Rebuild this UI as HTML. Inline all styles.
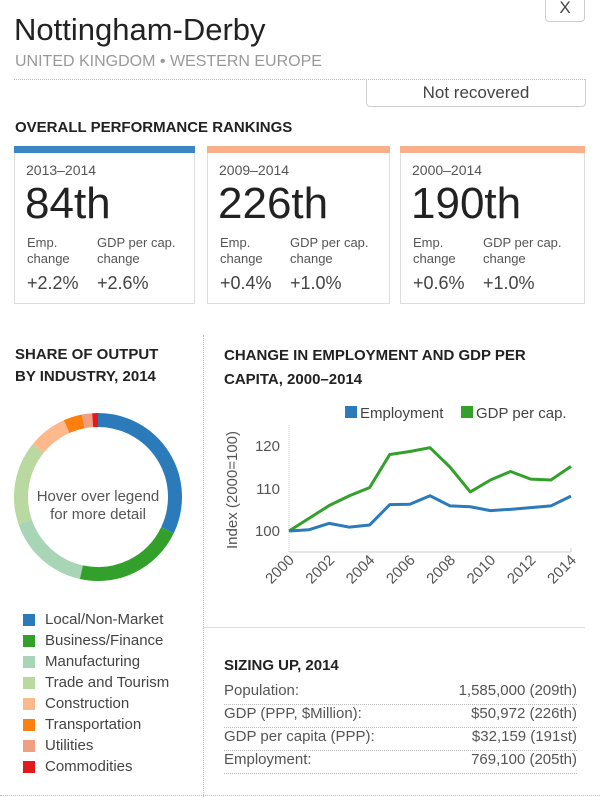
<!DOCTYPE html>
<html><head><meta charset="utf-8"><style>
body{margin:0;width:600px;height:797px;background:#fff;font-family:"Liberation Sans",Arial,sans-serif;position:relative;overflow:hidden;color:#333}
.a{position:absolute;white-space:nowrap}
.card{position:absolute;top:146px;height:158px;border:1px solid #ddd;border-top:none;box-sizing:border-box}
.bar{position:absolute;left:-1px;right:-1px;top:0;height:7px}
.h{font-weight:bold;font-size:15px;color:#222}
.lg{font-size:15px;color:#444}
.sq{position:absolute;width:12px;height:12px}
.row{position:absolute;left:224px;width:353px;height:22px;border-bottom:1px dotted #bbb;font-size:15px;color:#555}
.row span{position:absolute;right:0}
</style></head><body>
<div class="a" style="left:545px;top:-6px;width:38px;height:26px;border:1px solid #ccc;border-radius:4px;text-align:center;font-size:17px;line-height:26px;color:#444">X</div>
<div class="a" style="left:14px;top:12px;font-size:31px;color:#222">Nottingham-Derby</div>
<div class="a" style="left:15px;top:53px;font-size:16px;color:#999">UNITED KINGDOM • WESTERN EUROPE</div>
<div class="a" style="left:14px;top:79px;width:571px;border-top:1px dotted #bbb"></div>
<div class="a" style="left:366px;top:79px;width:218px;height:27px;border:1px solid #ccc;border-top:none;border-radius:0 0 4px 4px;text-align:center;line-height:27px;font-size:17px;color:#444">Not recovered</div>
<div class="a h" style="left:15px;top:119px">OVERALL PERFORMANCE RANKINGS</div>

<div class="card" style="left:14px;width:181px"><div class="bar" style="background:#3d86c6"></div>
<div class="a" style="left:11px;top:16px;font-size:14px;color:#555">2013–2014</div>
<div class="a" style="left:10px;top:33px;font-size:44px;color:#222">84th</div>
<div class="a" style="left:12px;top:89px;font-size:13px;color:#555;line-height:16px">Emp.<br>change</div>
<div class="a" style="left:82px;top:89px;font-size:13px;color:#555;line-height:16px">GDP per cap.<br>change</div>
<div class="a" style="left:12px;top:127px;font-size:18px;color:#444">+2.2%</div>
<div class="a" style="left:82px;top:127px;font-size:18px;color:#444">+2.6%</div></div>

<div class="card" style="left:207px;width:183px"><div class="bar" style="background:#f9b08a"></div>
<div class="a" style="left:11px;top:16px;font-size:14px;color:#555">2009–2014</div>
<div class="a" style="left:10px;top:33px;font-size:44px;color:#222">226th</div>
<div class="a" style="left:12px;top:89px;font-size:13px;color:#555;line-height:16px">Emp.<br>change</div>
<div class="a" style="left:82px;top:89px;font-size:13px;color:#555;line-height:16px">GDP per cap.<br>change</div>
<div class="a" style="left:12px;top:127px;font-size:18px;color:#444">+0.4%</div>
<div class="a" style="left:82px;top:127px;font-size:18px;color:#444">+1.0%</div></div>

<div class="card" style="left:400px;width:185px"><div class="bar" style="background:#f9b08a"></div>
<div class="a" style="left:11px;top:16px;font-size:14px;color:#555">2000–2014</div>
<div class="a" style="left:10px;top:33px;font-size:44px;color:#222">190th</div>
<div class="a" style="left:12px;top:89px;font-size:13px;color:#555;line-height:16px">Emp.<br>change</div>
<div class="a" style="left:82px;top:89px;font-size:13px;color:#555;line-height:16px">GDP per cap.<br>change</div>
<div class="a" style="left:12px;top:127px;font-size:18px;color:#444">+0.6%</div>
<div class="a" style="left:82px;top:127px;font-size:18px;color:#444">+1.0%</div></div>

<div class="a" style="left:203px;top:335px;height:462px;border-left:1px dotted #bbb"></div>
<div class="a" style="left:203px;top:627px;width:382px;border-top:1px solid #ddd"></div>
<div class="a" style="left:0;top:795px;width:600px;border-top:1px dotted #bbb"></div>

<div class="a h" style="left:15px;top:344px;line-height:22px">SHARE OF OUTPUT<br>BY INDUSTRY, 2014</div>
<div class="a h" style="left:224px;top:344px;line-height:24px">CHANGE IN EMPLOYMENT AND GDP PER<br>CAPITA, 2000–2014</div>

<svg class="a" style="left:0;top:0" width="600" height="797">
<g id="donut"></g>
<text x="98" y="501" text-anchor="middle" font-size="15" fill="#555">Hover over legend</text>
<text x="98" y="519" text-anchor="middle" font-size="15" fill="#555">for more detail</text>

<rect x="345" y="406" width="12" height="12" fill="#2b7bba"/>
<text x="360" y="418" font-size="15" fill="#444">Employment</text>
<rect x="461" y="406" width="12" height="12" fill="#33a02c"/>
<text x="476" y="418" font-size="15" fill="#444">GDP per cap.</text>
<g stroke="#ccc" stroke-width="1" fill="none">
<line x1="289" y1="425" x2="289" y2="552" stroke-dasharray="1,1"/>
<line x1="289" y1="552" x2="571" y2="552"/>
<line x1="571" y1="548" x2="571" y2="552"/>
</g>
<g font-size="15" fill="#555" text-anchor="end">
<text x="280" y="451">120</text><text x="280" y="494">110</text><text x="280" y="536">100</text>
</g>
<text transform="translate(237,490) rotate(-90)" text-anchor="middle" font-size="15" fill="#555">Index (2000=100)</text>
<g font-size="15" fill="#555" text-anchor="end" id="xl"></g>
<polyline id="gdp" fill="none" stroke="#33a02c" stroke-width="3" stroke-linejoin="round"/>
<polyline id="emp" fill="none" stroke="#2b7bba" stroke-width="3" stroke-linejoin="round"/>
</svg>

<div class="sq" style="left:23px;top:614px;background:#2b7bba"></div><div class="a lg" style="left:45px;top:611px">Local/Non-Market</div>
<div class="sq" style="left:23px;top:635px;background:#33a02c"></div><div class="a lg" style="left:45px;top:632px">Business/Finance</div>
<div class="sq" style="left:23px;top:656px;background:#a8d5b5"></div><div class="a lg" style="left:45px;top:653px">Manufacturing</div>
<div class="sq" style="left:23px;top:677px;background:#b9d9a0"></div><div class="a lg" style="left:45px;top:674px">Trade and Tourism</div>
<div class="sq" style="left:23px;top:698px;background:#fdb98c"></div><div class="a lg" style="left:45px;top:695px">Construction</div>
<div class="sq" style="left:23px;top:719px;background:#fd7f10"></div><div class="a lg" style="left:45px;top:716px">Transportation</div>
<div class="sq" style="left:23px;top:740px;background:#f0a080"></div><div class="a lg" style="left:45px;top:737px">Utilities</div>
<div class="sq" style="left:23px;top:761px;background:#e31a1c"></div><div class="a lg" style="left:45px;top:758px">Commodities</div>

<div class="a h" style="left:224px;top:657px">SIZING UP, 2014</div>
<div class="row" style="top:682px">Population:<span>1,585,000 (209th)</span></div>
<div class="row" style="top:705px">GDP (PPP, $Million):<span>$50,972 (226th)</span></div>
<div class="row" style="top:728px">GDP per capita (PPP):<span>$32,159 (191st)</span></div>
<div class="row" style="top:751px">Employment:<span>769,100 (205th)</span></div>

<script>
var ns="http://www.w3.org/2000/svg";
var cx=98,cy=497,r=77;
var segs=[[0,115.6,"#2b7bba"],[115.6,192.5,"#33a02c"],[192.5,251,"#a8d5b5"],[251,309,"#b9d9a0"],[309,336,"#fdb98c"],[336,349,"#fd7f10"],[349,356,"#f0a080"],[356,360,"#e31a1c"]];
var g=document.getElementById("donut");
segs.forEach(function(s){
 function p(a){a=a*Math.PI/180;return [cx+r*Math.sin(a),cy-r*Math.cos(a)];}
 var a=p(s[0]),b=p(s[1]);
 var e=document.createElementNS(ns,"path");
 e.setAttribute("d","M"+a[0]+","+a[1]+" A"+r+","+r+" 0 "+((s[1]-s[0])>180?1:0)+" 1 "+b[0]+","+b[1]);
 e.setAttribute("stroke",s[2]);e.setAttribute("stroke-width","14");e.setAttribute("fill","none");
 g.appendChild(e);
});
var gdp=[100,103,106,108.3,110.2,118,118.7,119.6,115,109.2,112,114,112.2,112,115.2];
var emp=[100,100.3,101.8,100.9,101.4,106.2,106.3,108.3,105.9,105.7,104.8,105.1,105.5,105.9,108.2];
function pts(v){return v.map(function(y,i){return (289+i*282/14)+","+(531-(y-100)*4.25);}).join(" ");}
document.getElementById("gdp").setAttribute("points",pts(gdp));
document.getElementById("emp").setAttribute("points",pts(emp));
var xl=document.getElementById("xl");
for(var i=0;i<=14;i+=2){var x=289+i*282/14;var t=document.createElementNS(ns,"text");
t.setAttribute("transform","translate("+(x+6)+",561) rotate(-45)");t.textContent=2000+i;xl.appendChild(t);}
</script>
</body></html>
